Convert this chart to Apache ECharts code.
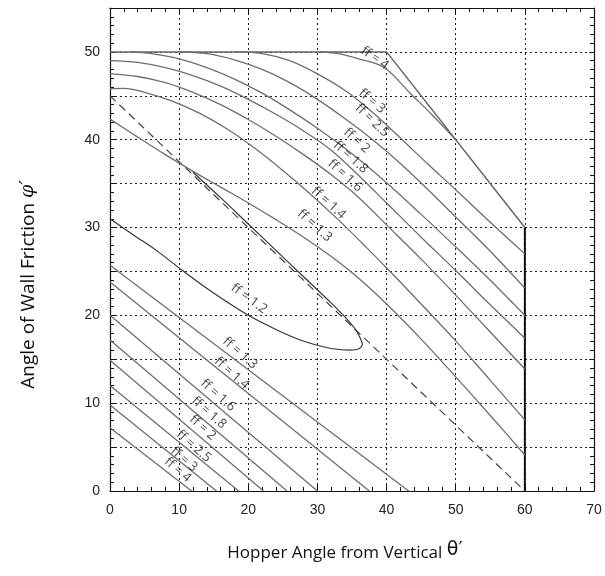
<!DOCTYPE html>
<html><head><meta charset="utf-8">
<script src="https://cdn.jsdelivr.net/npm/echarts/dist/echarts.min.js"></script>
<style>html,body{margin:0;padding:0;background:#fff}#c{width:605px;height:576px}</style>
</head><body><div id="c"></div><script>
// ---- data (θ', φ') ----
const boundaryTop = [[0,50],[40,50],[60,30]];
const boundaryRight = [[60,30],[60,0]];
const dashedLimit = [[0,45],[60,0]];

const upperFF4  = [[30,50],[33,49.8],[36,49.2],[39.7,48.2],[43.4,45.3],[46.5,42.9],[50,40]];
const upperFF3  = [[18,50],[22,49.8],[26,49],[30,47.5],[34,45.6],[38,43.1],[42,40.2],[46,37.2],[50,34.3],[55,30.6],[60,27.0]];
const upperFF25 = [[10,50],[14,49.8],[18,49.1],[22,48.0],[26,46.5],[30,44.6],[34,42.4],[38,40.0],[42,37.3],[46,34.3],[50,31.2],[55,27.3],[60,23.1]];
const upperFF2  = [[3,50],[6,49.8],[10,49.2],[14,48.2],[18,46.9],[22,45.3],[26,43.4],[30,41.3],[35,38.4],[40,35.1],[45,31.5],[50,27.8],[55,24.0],[60,20.0]];
const upperFF18 = [[0,49.0],[4,48.8],[8,48.2],[12,47.3],[16,46.1],[20,44.6],[24,42.9],[28,41.0],[32,38.8],[36,35.9],[40,32.8],[45,28.9],[50,25.1],[55,21.2],[60,17.4]];
const upperFF16 = [[0,47.5],[4,47.2],[8,46.5],[12,45.4],[16,44.0],[20,42.3],[24,40.4],[28,38.3],[32,36.0],[36,33.4],[40,30.3],[45,26.4],[50,22.3],[55,18.1],[60,13.9]];
const upperFF14 = [[0,45.8],[2,45.85],[5,45.4],[9,44.4],[13,43.0],[17,41.2],[21,39.0],[25,36.5],[29,33.8],[33,30.9],[37,27.8],[41,24.6],[45,21.3],[50,17.1],[55,12.6],[60,8.1]];
const upperFF13 = [[0,42.35],[4,40.3],[8,38.3],[12,36.4],[16,34.6],[20,32.8],[24,30.9],[28,28.9],[32,26.7],[36,24.2],[40,21.3],[45,17.3],[50,13.0],[55,8.6],[60,4.1]];
const loopFF12  = [[0,31.0],[3.5,29.1],[6.7,27.4],[10.5,25.1],[14.5,22.8],[20,20.0],[24,18.4],[27.5,17.2],[30,16.6],[32.2,16.2],[34.7,16.05],[36,16.2],[36.5,16.7],[36.2,17.4],[35.4,18.5],[34,19.8],[32,21.4],[28,24.4],[24,27.4],[20,30.4],[16,33.4],[12,36.3]];

const lowerNames  = ['1.3','1.4','1.6','1.8','2','2.5','3','4'];
const lowerStarts = [25.7, 23.8, 20.0, 17.2, 14.9, 12.0, 9.8, 7.2];   // φ' at θ'=0
const lowerEnds   = [43.2, 37.5, 30.0, 25.6, 22.2, 18.6, 15.4, 11.8]; // θ' at φ'=0

const labelText  = ['ff = 4','ff = 3','ff = 2.5','ff = 2','ff = 1.8','ff = 1.6','ff = 1.4','ff = 1.3','ff = 1.2',
                    'ff = 1.3','ff = 1.4','ff = 1.6','ff = 1.8','ff = 2','ff = 2.5','ff = 3','ff = 4'];
const labelTheta = [38.3,37.9,37.9,35.7,34.8,34.0,31.6,29.6,20.1, 18.8,17.6,15.6,14.3,13.4,12.1,10.7,9.8];
const labelPhi   = [49.3,44.4,42.2,39.9,38.0,35.9,32.8,30.2,21.9, 15.7,13.4,10.9,8.9,7.2,5.1,3.6,2.4];
const labelAngle = [-35,-40,-44,-42,-42,-42,-42,-42,-36, -41,-41,-41,-41,-41,-41,-41,-41];

// ---- chart ----
const chart = echarts.init(document.getElementById('c'), null, {renderer:'canvas'});
const curveColor = '#6e6e6e';
function line(data, extra) {
  return Object.assign({type:'line', data:data, showSymbol:false, symbol:'none', silent:true,
    lineStyle:{color:curveColor, width:1.3}, z:3}, extra||{});
}
const series = [];
series.push(line(boundaryTop, {lineStyle:{color:'#666', width:1.5}}));
series.push(line(boundaryRight, {lineStyle:{color:'#111', width:2}}));
series.push(line(dashedLimit, {lineStyle:{color:'#444', width:1.2, type:[8,5]}}));
[upperFF4, upperFF3, upperFF25, upperFF2, upperFF18, upperFF16, upperFF14, upperFF13].forEach(d => {
  series.push(line(d, {smooth:0.35}));
});
series.push(line(loopFF12, {smooth:0.3, lineStyle:{color:'#333', width:1.15}}));
lowerNames.forEach((n,i) => {
  series.push(line([[0, lowerStarts[i]], [lowerEnds[i], 0]]));
});
series.push({
  type:'scatter', symbolSize:0, silent:true, z:5,
  data: labelText.map((t,i) => ({name:t, value:[labelTheta[i], labelPhi[i]], label:{rotate:labelAngle[i]}})),
  label:{show:true, position:'inside', formatter:'{b}', color:'#111', fontSize:13, fontFamily:'Open Sans'}
});

const gridLine = {show:true, lineStyle:{color:'#222', width:1, type:[2,3]}};
const tickFont = {color:'#222', fontSize:14, fontFamily:'Liberation Sans'};
chart.setOption({
  animation:false,
  grid:{left:110, right:11, top:8, bottom:85, containLabel:false},
  xAxis:[
    {type:'value', min:0, max:70, interval:10, position:'bottom',
     axisLine:{show:true, onZero:false, lineStyle:{color:'#111', width:1.2}},
     axisTick:{show:true, inside:true, length:6, lineStyle:{color:'#111'}},
     minorTick:{show:true, splitNumber:5, length:4, lineStyle:{color:'#111'}},
     splitLine:gridLine,
     axisLabel:Object.assign({margin:12}, tickFont),
     name:'Hopper Angle from Vertical {g|θ′}', nameLocation:'middle', nameGap:50,
     nameTextStyle:{fontFamily:'Open Sans', fontSize:17, color:'#111', padding:[0,14,0,0],
       rich:{g:{fontFamily:'DejaVu Sans', fontSize:19, color:'#111', padding:[0,0,6,0]}}}},
    {type:'value', min:0, max:70, interval:10, position:'top',
     axisLine:{show:true, onZero:false, lineStyle:{color:'#111', width:1.2}},
     axisTick:{show:true, inside:true, length:6, lineStyle:{color:'#111'}},
     minorTick:{show:true, splitNumber:5, length:4, lineStyle:{color:'#111'}},
     splitLine:{show:false}, axisLabel:{show:false}}
  ],
  yAxis:[
    {type:'value', min:0, max:55, interval:5, position:'left',
     axisLine:{show:true, onZero:false, lineStyle:{color:'#111', width:1.2}},
     axisTick:{show:true, inside:true, length:5, lineStyle:{color:'#111'}},
     minorTick:{show:true, splitNumber:5, length:4, lineStyle:{color:'#111'}},
     splitLine:gridLine,
     axisLabel:Object.assign({margin:10, formatter:v => (v % 10 === 0 ? String(v) : '')}, tickFont),
     name:'Angle of Wall Friction {i|φ′}', nameLocation:'middle', nameGap:72,
     nameTextStyle:{fontFamily:'Open Sans', fontSize:19, color:'#111', padding:[0,70,0,0],
       rich:{i:{fontFamily:'DejaVu Serif', fontStyle:'italic', fontSize:19, color:'#111'}}}},
    {type:'value', min:0, max:55, interval:5, position:'right',
     axisLine:{show:true, onZero:false, lineStyle:{color:'#111', width:1.2}},
     axisTick:{show:true, inside:true, length:5, lineStyle:{color:'#111'}},
     minorTick:{show:true, splitNumber:5, length:4, lineStyle:{color:'#111'}},
     splitLine:{show:false}, axisLabel:{show:false}}
  ],
  series: series
});
</script></body></html>
